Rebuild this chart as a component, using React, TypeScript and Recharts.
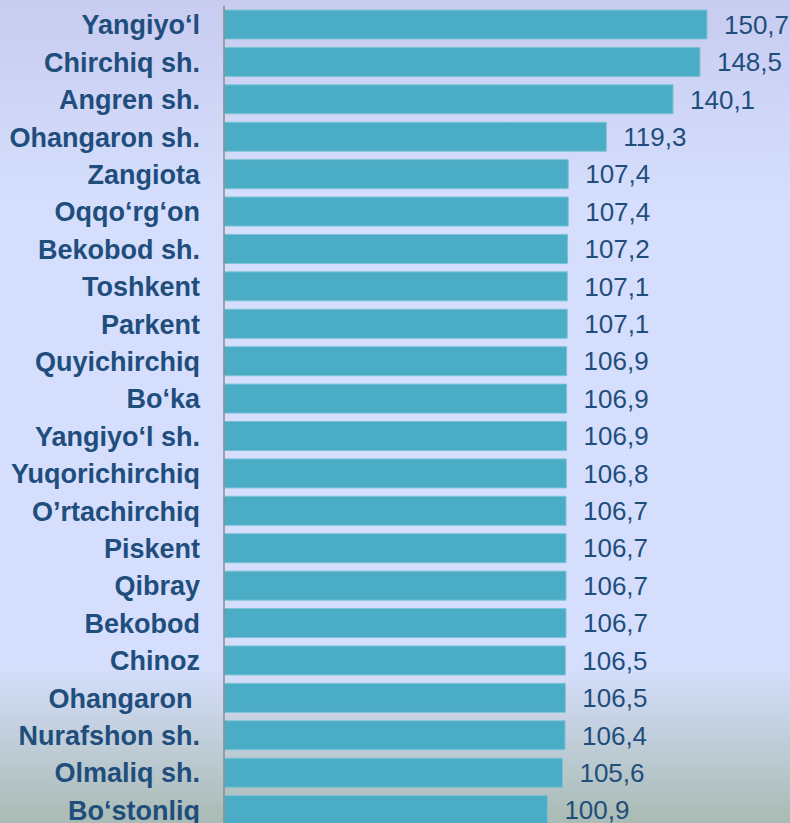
import React from "react";
import { BarChart, Bar, XAxis, YAxis, LabelList } from "recharts";

const districts = [
  "Yangiyo‘l",
  "Chirchiq sh.",
  "Angren sh.",
  "Ohangaron sh.",
  "Zangiota",
  "Oqqo‘rg‘on",
  "Bekobod sh.",
  "Toshkent",
  "Parkent",
  "Quyichirchiq",
  "Bo‘ka",
  "Yangiyo‘l sh.",
  "Yuqorichirchiq",
  "O’rtachirchiq",
  "Piskent",
  "Qibray",
  "Bekobod",
  "Chinoz",
  "Ohangaron\u00A0",
  "Nurafshon sh.",
  "Olmaliq sh.",
  "Bo‘stonliq",
];

const values = [
  150.7, 148.5, 140.1, 119.3, 107.4, 107.4, 107.2, 107.1, 107.1, 106.9, 106.9,
  106.9, 106.8, 106.7, 106.7, 106.7, 106.7, 106.5, 106.5, 106.4, 105.6, 100.9,
];

const data = districts.map((name, i) => ({ name, value: values[i] }));

const textColor = "#1F4E7D";

export default function App() {
  return (
    <div
      style={{
        position: "absolute",
        left: 0,
        top: 0,
        width: 790,
        height: 823,
        overflow: "hidden",
        background:
          "linear-gradient(to bottom, #C8CCF0 0px, #D5DEFC 200px, #D5DEFC 668px, #A9BBB3 823px)",
        fontFamily: "Arial, 'Liberation Sans', sans-serif",
      }}
    >
      <BarChart
        width={790}
        height={829}
        data={data}
        layout="vertical"
        margin={{ top: 6, right: 0, bottom: 0, left: 0 }}
      >
        <XAxis type="number" domain={[0, 176.6]} hide />
        <YAxis
          type="category"
          dataKey="name"
          width={224}
          interval={0}
          tickLine={false}
          tickSize={0}
          tickMargin={24}
          axisLine={{ stroke: "#8C8C8C", strokeWidth: 1.5 }}
          tick={{ fill: textColor, fontSize: 27, fontWeight: "bold" }}
        />
        <Bar
          dataKey="value"
          fill="#4AACC5"
          stroke="#7CC3D6"
          strokeWidth={1}
          barSize={29}
          isAnimationActive={false}
        >
          <LabelList
            dataKey="value"
            position="right"
            offset={17}
            fill={textColor}
            fontSize={26}
            formatter={(v: any) => String(v).replace(".", ",")}
          />
        </Bar>
      </BarChart>
    </div>
  );
}
